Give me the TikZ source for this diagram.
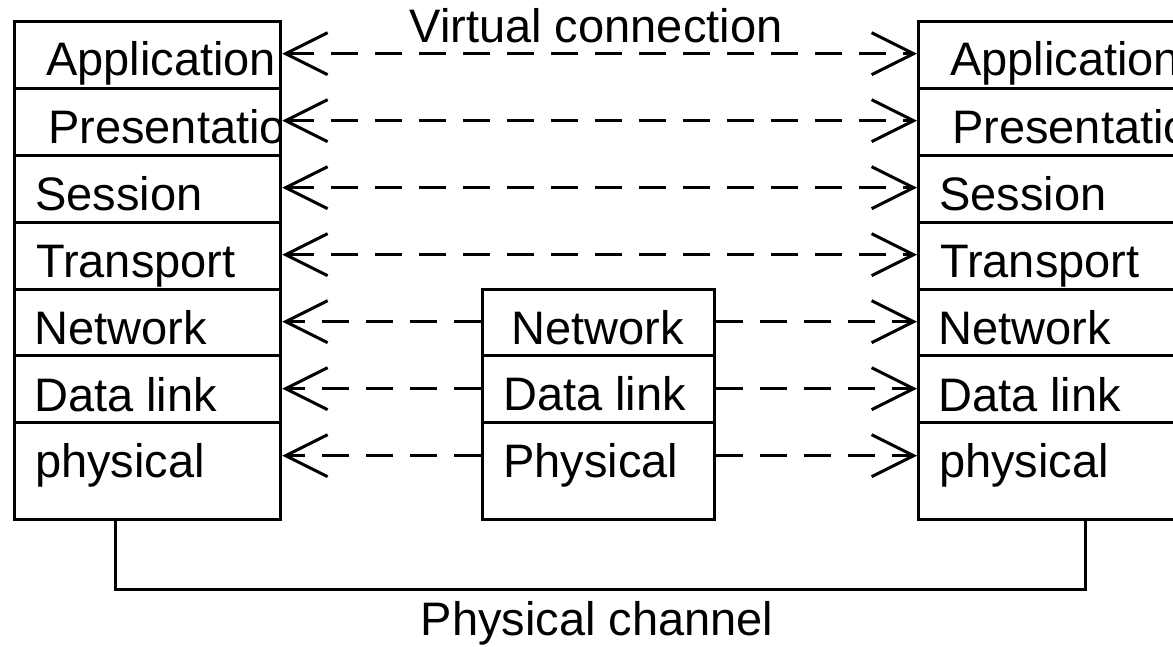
\documentclass[tikz,border=0pt]{standalone}
\usepackage{fontspec}
\setmainfont{Liberation Sans}
\usetikzlibrary{arrows.meta}
\tikzset{
  layer/.style={draw, line width=3.3pt, rectangle, inner sep=0pt, anchor=north west},
  lbl/.style={inner sep=0pt, anchor=base west, font=\fontsize{47pt}{56pt}\selectfont},
  vlink/.style={line width=3pt, dash pattern=on 27pt off 17pt, {Straight Barb[length=42pt,width=42pt]}-{Straight Barb[length=42pt,width=42pt]}},
  hop/.style={line width=3pt, dash pattern=on 27pt off 17pt, -{Straight Barb[length=42pt,width=42pt]}},
  chan/.style={line width=3pt},
}
\begin{document}
\begin{tikzpicture}[x=1pt,y=-1pt]
\useasboundingbox (0,0) rectangle (1173,646);

% the two end-system stacks (seven layers each)
\foreach \n/\y/\h in {1/20/67,2/87/67,3/154/67,4/221/67,5/288/66,6/354/67,7/421/97}{
  \node[layer, minimum width=266pt, minimum height=\h pt] (L\n) at (13,\y) {};
  \node[layer, minimum width=300pt, minimum height=\h pt] (R\n) at (917,\y) {};
}

% the intermediate node (three layers)
\node[layer, minimum width=232pt, minimum height=66pt] (M1) at (481,288) {};
\node[layer, minimum width=232pt, minimum height=67pt] (M2) at (481,354) {};
\node[layer, minimum width=232pt, minimum height=97pt] (M3) at (481,421) {};

% layer names, left stack (clipped to its frame)
\begin{scope}
  \clip (13,20) rectangle (279,518);
  \node[lbl] (tL1) at (46,75)  {Application};
  \node[lbl] (tL2) at (48,143) {Presentation};
  \node[lbl] (tL3) at (35,210) {Session};
  \node[lbl] (tL4) at (36,277) {Transport};
  \node[lbl] (tL5) at (34,344) {Network};
  \node[lbl] (tL6) at (34,411) {Data link};
  \node[lbl] (tL7) at (35,477) {physical};
\end{scope}

% layer names, right stack
\node[lbl] (tR1) at (950,75)  {Application};
\node[lbl] (tR2) at (952,143) {Presentation};
\node[lbl] (tR3) at (939,210) {Session};
\node[lbl] (tR4) at (940,277) {Transport};
\node[lbl] (tR5) at (938,344) {Network};
\node[lbl] (tR6) at (938,411) {Data link};
\node[lbl] (tR7) at (939,477) {physical};

% layer names, intermediate node
\node[lbl] (tM1) at (511,344) {Network};
\node[lbl] (tM2) at (503,410) {Data link};
\node[lbl] (tM3) at (503,477) {Physical};

% peer-to-peer virtual links
\foreach \n in {1,2,3,4}
  \draw[vlink] ([yshift=1.5pt]L\n.east) -- ([yshift=1.5pt]R\n.west);

\draw[hop] ([yshift=1pt]M1.west) -- ([yshift=1pt]L5.east);
\draw[hop] ([yshift=1pt]M1.east) -- ([yshift=1pt]R5.west);
\draw[hop] ([yshift=0.5pt]M2.west) -- ([yshift=0.5pt]L6.east);
\draw[hop] ([yshift=0.5pt]M2.east) -- ([yshift=0.5pt]R6.west);
\draw[hop] ([yshift=15.5pt]M3.west) -- ([yshift=15.5pt]L7.east);
\draw[hop] ([yshift=15.5pt]M3.east) -- ([yshift=15.5pt]R7.west);

\node[lbl, anchor=base] (vc) at (596,42) {Virtual connection};

% physical channel joining the two stacks
\coordinate (chL) at (115,589);
\coordinate (chR) at (1085,589);
\draw[chan] (L7.south -| chL) -- (chL) -- (chR) -- (R7.south -| chR);
\node[lbl, anchor=base] (pch) at (597,635) {Physical channel};
\end{tikzpicture}
\end{document}
